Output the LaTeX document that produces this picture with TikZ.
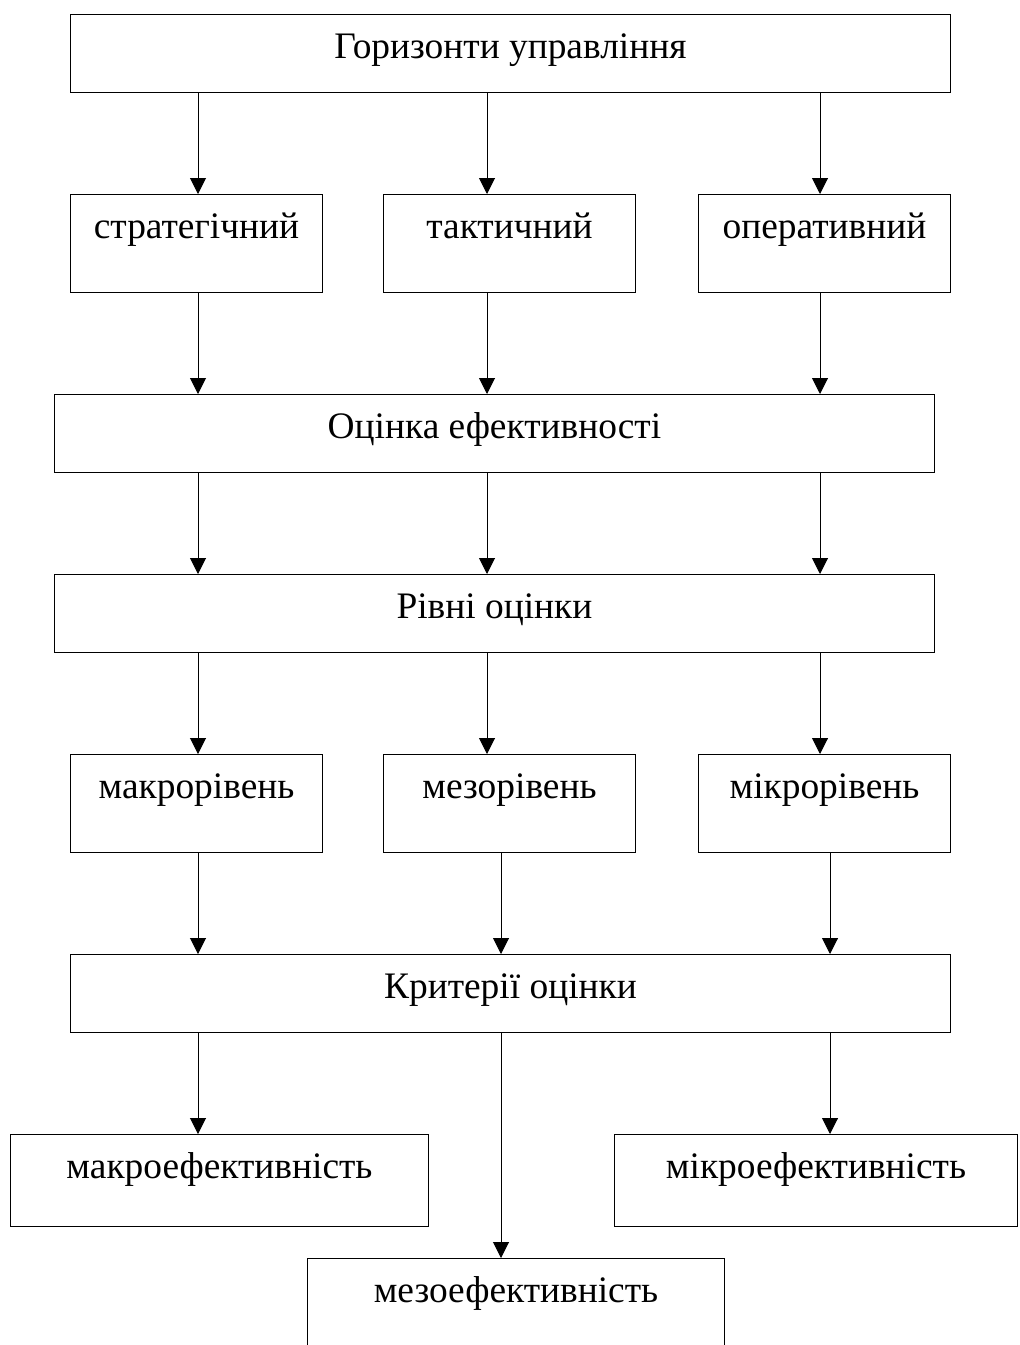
\documentclass[tikz,border=0pt]{standalone}
\usepackage{fontspec}
\setmainfont{Liberation Serif}
\usetikzlibrary{arrows.meta}

\begin{document}
\begin{tikzpicture}[
    box/.style={draw, line width=0.7pt, anchor=north west, inner sep=0pt, text height=1.1cm},
    wide/.style={box, minimum width=22cm, text depth=0.85cm},
    level/.style={box, minimum width=6.3cm, text depth=1.35cm},
    result/.style={box, text depth=1.2cm},
    arr/.style={line width=0.7pt, -{Triangle[length=0.4cm,width=0.4cm]}},
    font=\fontsize{26.6pt}{32pt}\selectfont]
            \useasboundingbox (0,0) rectangle (25.475,-33.625);
            \clip (0,0) rectangle (25.475,-33.625);
            \node[wide] (horiz) at (1.75,-0.35) {Горизонти управління};
            \node[level] (strat) at (1.75,-4.85) {стратегічний};
            \node[level] (takt) at (9.575,-4.85) {тактичний};
            \node[level] (oper) at (17.45,-4.85) {оперативний};
            \node[wide] (eval) at (1.35,-9.85) {Оцінка ефективності};
            \node[wide] (levels) at (1.35,-14.35) {Рівні оцінки};
            \node[level] (macro) at (1.75,-18.85) {макрорівень};
            \node[level] (meso) at (9.575,-18.85) {мезорівень};
            \node[level] (micro) at (17.45,-18.85) {мікрорівень};
            \node[wide] (crit) at (1.75,-23.85) {Критерії оцінки};
            \node[result, minimum width=10.45cm] (macroeff) at (0.25,-28.35) {макроефективність};
            \node[result, minimum width=10.075cm] (microeff) at (15.35,-28.35) {мікроефективність};
            \node[result, minimum width=10.425cm] (mesoeff) at (7.675,-31.45) {мезоефективність};
            \coordinate (c1) at (4.95,0);
            \coordinate (c2) at (12.175,0);
            \coordinate (c3) at (20.5,0);
            \coordinate (c4) at (12.525,0);
            \coordinate (c5) at (20.75,0);
            \draw[arr] (horiz.south -| c1) -- (strat.north -| c1);
            \draw[arr] (horiz.south -| c2) -- (takt.north -| c2);
            \draw[arr] (horiz.south -| c3) -- (oper.north -| c3);
            \draw[arr] (strat.south -| c1) -- (eval.north -| c1);
            \draw[arr] (takt.south -| c2) -- (eval.north -| c2);
            \draw[arr] (oper.south -| c3) -- (eval.north -| c3);
            \draw[arr] (eval.south -| c1) -- (levels.north -| c1);
            \draw[arr] (eval.south -| c2) -- (levels.north -| c2);
            \draw[arr] (eval.south -| c3) -- (levels.north -| c3);
            \draw[arr] (levels.south -| c1) -- (macro.north -| c1);
            \draw[arr] (levels.south -| c2) -- (meso.north -| c2);
            \draw[arr] (levels.south -| c3) -- (micro.north -| c3);
            \draw[arr] (macro.south -| c1) -- (crit.north -| c1);
            \draw[arr] (meso.south -| c4) -- (crit.north -| c4);
            \draw[arr] (micro.south -| c5) -- (crit.north -| c5);
            \draw[arr] (crit.south -| c1) -- (macroeff.north -| c1);
            \draw[arr] (crit.south -| c4) -- (mesoeff.north -| c4);
            \draw[arr] (crit.south -| c5) -- (microeff.north -| c5);
\end{tikzpicture}
\end{document}
